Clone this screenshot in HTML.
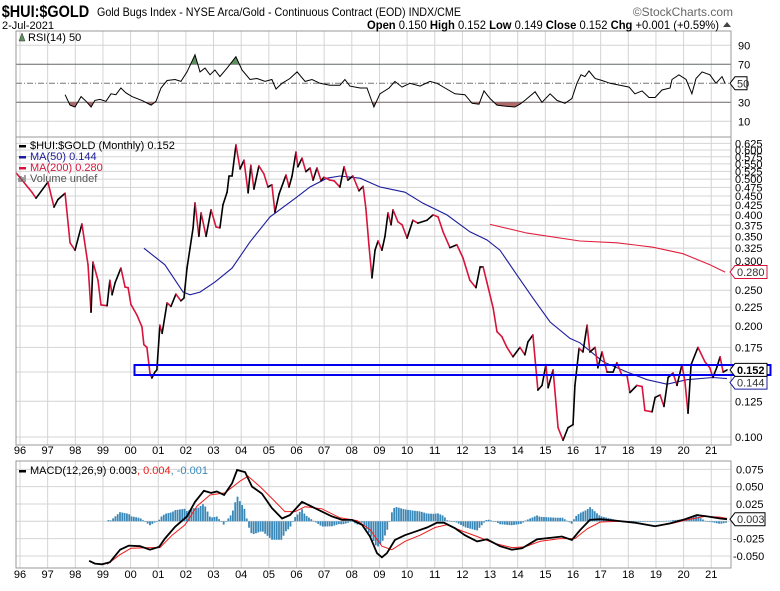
<!DOCTYPE html>
<html><head><meta charset="utf-8">
<style>
html,body{margin:0;padding:0;background:#fff;}
body{width:780px;height:586px;overflow:hidden;font-family:"Liberation Sans",Arial,sans-serif;}
svg text{font-family:"Liberation Sans",Arial,sans-serif;}
</style></head>
<body>
<svg id="chart" width="780" height="586" viewBox="0 0 780 586" xmlns="http://www.w3.org/2000/svg">
  <g id="grid"></g>
  <g id="marks"></g>
  <g id="frame"></g>
  <text x="2" y="17" font-size="17" font-weight="bold" transform="scale(0.85,1)">$HUI:$GOLD</text>
  <text x="97" y="16" font-size="12" textLength="364" lengthAdjust="spacingAndGlyphs">Gold Bugs Index - NYSE Arca/Gold - Continuous Contract (EOD) INDX/CME</text>
  <text x="733" y="16" font-size="12" fill="#666" text-anchor="end">©StockCharts.com</text>
  <text x="2" y="29" font-size="11">2-Jul-2021</text>
  <text x="367" y="29" font-size="12" textLength="352" lengthAdjust="spacingAndGlyphs"><tspan font-weight="bold">Open</tspan> 0.150 <tspan font-weight="bold">High</tspan> 0.152 <tspan font-weight="bold">Low</tspan> 0.149 <tspan font-weight="bold">Close</tspan> 0.152 <tspan font-weight="bold">Chg</tspan> +0.001 (+0.59%)</text>
  <path d="M723,27 L731,27 L727,22 Z" fill="#444"/>
</svg>
<script>
// ---------- DATA ----------
const priceDates = [1995.86,1996.43,1996.58,1997.01,1997.23,1997.37,1997.63,1997.81,1997.99,1998.24,1998.46,1998.57,1998.64,1998.82,1998.93,1999.15,1999.25,1999.33,1999.44,1999.65,1999.80,1999.91,2000.01,2000.23,2000.41,2000.48,2000.59,2000.70,2000.77,2000.88,2000.95,2001.06,2001.14,2001.32,2001.46,2001.64,2001.82,2001.93,2002.04,2002.15,2002.26,2002.33,2002.47,2002.55,2002.73,2002.91,2003.09,2003.23,2003.34,2003.49,2003.56,2003.67,2003.81,2003.96,2004.10,2004.25,2004.35,2004.46,2004.64,2004.82,2004.97,2005.11,2005.22,2005.37,2005.62,2005.73,2005.84,2005.98,2006.05,2006.20,2006.34,2006.49,2006.60,2006.74,2006.89,2006.99,2007.21,2007.36,2007.57,2007.72,2007.86,2008.04,2008.26,2008.41,2008.51,2008.62,2008.73,2008.84,2008.95,2009.09,2009.20,2009.31,2009.42,2009.49,2009.67,2009.82,2010.00,2010.21,2010.39,2010.72,2010.94,2011.12,2011.30,2011.55,2011.80,2012.02,2012.27,2012.49,2012.64,2012.75,2012.89,2013.11,2013.25,2013.43,2013.61,2013.83,2014.08,2014.26,2014.37,2014.55,2014.73,2014.88,2015.02,2015.10,2015.28,2015.46,2015.64,2015.82,2016.00,2016.07,2016.22,2016.36,2016.51,2016.61,2016.80,2016.90,2017.05,2017.23,2017.45,2017.59,2017.77,2017.95,2018.06,2018.31,2018.50,2018.60,2018.86,2018.97,2019.15,2019.29,2019.44,2019.62,2019.76,2019.94,2020.05,2020.16,2020.27,2020.52,2020.77,2020.95,2021.06,2021.21,2021.32,2021.43,2021.57];
const priceValues = [0.52,0.461,0.444,0.491,0.42,0.44,0.458,0.336,0.321,0.378,0.293,0.218,0.298,0.266,0.228,0.227,0.266,0.243,0.262,0.287,0.255,0.254,0.229,0.214,0.199,0.178,0.175,0.149,0.1445,0.15,0.152,0.201,0.191,0.231,0.226,0.244,0.234,0.238,0.287,0.325,0.369,0.431,0.35,0.405,0.35,0.413,0.371,0.369,0.426,0.461,0.51,0.51,0.619,0.533,0.563,0.459,0.545,0.47,0.543,0.517,0.476,0.483,0.407,0.456,0.513,0.476,0.51,0.592,0.54,0.57,0.524,0.536,0.497,0.536,0.495,0.506,0.497,0.495,0.476,0.54,0.497,0.51,0.465,0.478,0.416,0.331,0.27,0.321,0.34,0.321,0.35,0.405,0.376,0.413,0.383,0.376,0.346,0.387,0.38,0.387,0.40,0.395,0.36,0.326,0.332,0.306,0.266,0.254,0.289,0.289,0.262,0.224,0.193,0.187,0.175,0.165,0.175,0.167,0.181,0.189,0.134,0.138,0.157,0.136,0.152,0.106,0.098,0.106,0.108,0.138,0.174,0.17,0.201,0.17,0.175,0.154,0.17,0.15,0.15,0.159,0.147,0.147,0.132,0.138,0.137,0.118,0.117,0.128,0.13,0.121,0.145,0.149,0.138,0.157,0.141,0.116,0.157,0.175,0.16,0.154,0.145,0.155,0.165,0.15,0.152];
const ma50Dates = [2000.48,2001.24,2001.90,2002.15,2002.51,2003.05,2003.67,2004.32,2005.04,2005.98,2006.49,2007.10,2007.57,2008.30,2009.02,2009.92,2010.58,2011.44,2012.27,2012.89,2013.36,2013.97,2014.55,2015.17,2015.89,2016.25,2017.09,2017.95,2018.68,2019.40,2020.12,2021.06,2021.57];
const ma50Values = [0.325,0.293,0.247,0.243,0.247,0.263,0.287,0.338,0.395,0.445,0.476,0.503,0.51,0.503,0.476,0.461,0.43,0.40,0.36,0.342,0.321,0.275,0.238,0.205,0.185,0.18,0.16,0.15,0.143,0.139,0.143,0.145,0.144];
const ma200Dates = [2013.00,2014.34,2016.25,2017.59,2018.89,2019.98,2020.95,2021.50];
const ma200Values = [0.377,0.357,0.34,0.336,0.327,0.314,0.293,0.28];
const priceTicks = [0.100,0.125,0.150,0.175,0.200,0.225,0.250,0.275,0.300,0.325,0.350,0.375,0.400,0.425,0.450,0.475,0.500,0.525,0.550,0.575,0.600,0.625];
const priceTickLabels = ["0.100","0.125","","0.175","0.200","0.225","0.250","","0.300","0.325","0.350","0.375","0.400","0.425","0.450","0.475","0.500","0.525","0.550","0.575","0.600","0.625"];

const rsiDates = [1997.63,1997.81,1997.99,1998.21,1998.39,1998.57,1998.71,1998.89,1999.11,1999.29,1999.47,1999.65,1999.83,2000.05,2000.41,2000.74,2000.92,2001.10,2001.32,2001.61,2001.82,2002.04,2002.33,2002.51,2002.69,2002.87,2003.05,2003.23,2003.49,2003.81,2004.03,2004.32,2004.57,2004.86,2005.11,2005.26,2005.48,2005.76,2006.02,2006.31,2006.56,2006.85,2007.21,2007.57,2007.75,2007.93,2008.30,2008.55,2008.80,2009.02,2009.35,2009.56,2009.82,2010.10,2010.47,2010.83,2011.08,2011.37,2011.73,2012.09,2012.35,2012.60,2012.78,2013.00,2013.25,2013.54,2013.90,2014.08,2014.26,2014.63,2014.88,2015.17,2015.42,2015.71,2015.96,2016.14,2016.29,2016.43,2016.58,2016.80,2017.05,2017.34,2017.70,2018.03,2018.24,2018.50,2018.75,2018.97,2019.22,2019.51,2019.58,2019.83,2020.09,2020.30,2020.45,2020.67,2020.95,2021.17,2021.39,2021.50];
const rsiValues = [38,27,25,36,31,25,32,33,31,39,38,45,40,36,32,27,31,45,53,54,52,62,80,62,66,59,64,57,66,78,64,54,55,52,54,44,50,55,62,52,54,50,48,48,54,47,45,45,25,39,45,52,46,50,47,52,50,45,39,38,29,28,42,34,27,26,25,28,32,41,30,39,32,29,34,50,59,57,63,55,53,50,48,46,39,42,35,35,43,45,54,59,54,39,55,62,59,50,57,50];
const rsiTicks = [10,30,50,70,90];

const macdDates = [1998.50,1998.71,1998.97,1999.25,1999.62,1999.94,2000.34,2000.70,2001.03,2001.24,2001.61,2002.04,2002.33,2002.65,2002.91,2003.12,2003.38,2003.67,2003.85,2004.14,2004.39,2004.75,2005.11,2005.48,2005.76,2006.20,2006.56,2006.92,2007.28,2007.65,2008.01,2008.37,2008.66,2008.91,2009.09,2009.27,2009.56,2009.92,2010.29,2010.72,2011.08,2011.33,2011.73,2012.09,2012.53,2012.89,2013.36,2013.79,2014.16,2014.70,2015.17,2015.60,2015.96,2016.25,2016.61,2016.98,2017.52,2018.24,2018.97,2019.51,2020.05,2020.48,2020.85,2021.32,2021.57];
const macdValues = [-0.057,-0.061,-0.062,-0.059,-0.041,-0.035,-0.036,-0.041,-0.037,-0.025,-0.008,0.007,0.028,0.044,0.041,0.043,0.038,0.055,0.074,0.071,0.050,0.040,0.019,0.004,0.009,0.028,0.021,0.014,0.007,0.002,0.002,-0.005,-0.022,-0.046,-0.052,-0.046,-0.027,-0.020,-0.015,-0.009,-0.002,-0.002,-0.010,-0.020,-0.029,-0.026,-0.036,-0.041,-0.039,-0.026,-0.024,-0.022,-0.027,-0.013,0.002,0.003,0.001,-0.002,-0.007,-0.003,0.003,0.009,0.007,0.004,0.003];
const signalDates = [1999.15,1999.62,2000.01,2000.70,2001.06,2001.50,2001.97,2002.40,2002.87,2003.41,2003.96,2004.25,2004.68,2005.11,2005.58,2005.95,2006.31,2006.92,2007.57,2008.19,2008.66,2009.09,2009.45,2009.92,2010.47,2011.01,2011.44,2011.99,2012.53,2013.18,2013.79,2014.26,2014.80,2015.52,2016.07,2016.51,2016.98,2017.70,2018.42,2018.97,2019.58,2020.23,2020.77,2021.32,2021.57];
const signalValues = [-0.062,-0.048,-0.039,-0.038,-0.038,-0.020,-0.005,0.022,0.038,0.041,0.058,0.065,0.050,0.033,0.014,0.014,0.021,0.018,0.005,0.001,-0.012,-0.036,-0.041,-0.029,-0.020,-0.009,-0.005,-0.014,-0.022,-0.032,-0.038,-0.037,-0.029,-0.025,-0.025,-0.011,-0.001,0.000,-0.003,-0.007,-0.003,0.003,0.007,0.006,0.004];
const macdTicks = [-0.050,-0.025,0,0.025,0.050,0.075];
const macdTickLabels = ["-0.050","-0.025","","0.025","0.050","0.075"];
const years = [1996,1997,1998,1999,2000,2001,2002,2003,2004,2005,2006,2007,2008,2009,2010,2011,2012,2013,2014,2015,2016,2017,2018,2019,2020,2021];

// ---------- GEOMETRY ----------
const L = 16, R = 731;
const RSI_T = 31, RSI_B = 137, P_T = 137, P_B = 445, M_T = 461, M_B = 568;
const xOf = d => 20 + (d - 1996) * 27.65;
const yPrice = v => 437 - 160.2 * Math.log(v / 0.1);
const yRsi = v => 83.3 - (v - 50) * 0.95;
const yMacd = v => 521.3 - v * 693;
const NS = "http://www.w3.org/2000/svg";
const grid = document.getElementById('grid');
const marks = document.getElementById('marks');
const frame = document.getElementById('frame');
function mk(tag, attrs, parent) {
  const e = document.createElementNS(NS, tag);
  for (const k in attrs) e.setAttribute(k, attrs[k]);
  parent.appendChild(e);
  return e;
}
function pathD(ds, vs, fx, fy) {
  return ds.map((d, i) => (i ? 'L' : 'M') + fx(d).toFixed(1) + ',' + fy(vs[i]).toFixed(1)).join(' ');
}
function interp(ds, vs, d) {
  if (d <= ds[0]) return vs[0];
  for (let i = 1; i < ds.length; i++) if (d <= ds[i]) { const t = (d - ds[i-1]) / (ds[i] - ds[i-1]); return vs[i-1] + t * (vs[i] - vs[i-1]); }
  return vs[vs.length - 1];
}

years.forEach(y => {
  const x = xOf(y);
  [[RSI_T, RSI_B], [P_T, P_B], [M_T, M_B]].forEach(([a, b]) => {
    const ln = mk('line', {x1: x, x2: x, y1: a, y2: b, stroke: '#d4d4d4', 'stroke-width': 1}, grid);
    
    
  });
  [P_B + 12, 581].forEach(ty => {
    const t = mk('text', {x: x, y: ty - 3, 'font-size': 11, 'text-anchor': 'middle', fill: '#000'}, frame);
    t.textContent = String(y).slice(2);
    
    
  });
});

rsiTicks.forEach(v => {
  const y = yRsi(v);
  const attrs = {x1: L, x2: R, y1: y, y2: y, stroke: '#d4d4d4', 'stroke-width': 1};
  if (v === 30 || v === 70) { attrs.stroke = '#666'; }
  if (v === 50) { attrs.stroke = '#777'; attrs['stroke-dasharray'] = '6,2,1,2'; }
  const ln = mk('line', attrs, grid);
  
  
  if (v !== 50) {
    const t = mk('text', {x: 738, y: y + 4, 'font-size': 11}, frame);
    t.textContent = v;
    
    
  }
});
priceTicks.forEach((v, i) => {
  const y = yPrice(v);
  const ln = mk('line', {x1: L, x2: R, y1: y, y2: y, stroke: '#d4d4d4', 'stroke-width': 1}, grid);
  
  
  if (priceTickLabels[i]) {
    const t = mk('text', {x: 735, y: y + 4, 'font-size': 11}, frame);
    t.textContent = priceTickLabels[i];
    
    
  }
});
macdTicks.forEach((v, i) => {
  const y = yMacd(v);
  const ln = mk('line', {x1: L, x2: R, y1: y, y2: y, stroke: '#d4d4d4', 'stroke-width': 1}, grid);
  
  
  if (macdTickLabels[i]) {
    const t = mk('text', {x: macdTicks[i] < 0 ? 733 : 736, y: y + 4, 'font-size': 11}, frame);
    t.textContent = macdTickLabels[i];
    
    
  }
});

// ---------- RSI ----------
const defs = mk('defs', {}, marks);
const c1 = mk('clipPath', {id: 'below30'}, defs); mk('rect', {x: L, y: yRsi(30), width: R - L, height: 40}, c1);
const c2 = mk('clipPath', {id: 'above70'}, defs); mk('rect', {x: L, y: RSI_T, width: R - L, height: yRsi(70) - RSI_T}, c2);
const rsiLine = pathD(rsiDates, rsiValues, xOf, yRsi);
const xs0 = xOf(rsiDates[0]), xs1 = xOf(rsiDates[rsiDates.length - 1]);
const redFill = mk('path', {d: rsiLine + ` L${xs1},${yRsi(30)} L${xs0},${yRsi(30)} Z`, fill: '#b06a6a', 'clip-path': 'url(#below30)'}, marks);


const greenFill = mk('path', {d: rsiLine + ` L${xs1},${yRsi(70)} L${xs0},${yRsi(70)} Z`, fill: '#5e8f5e', 'clip-path': 'url(#above70)'}, marks);


const rsiP = mk('path', {d: rsiLine, fill: 'none', stroke: '#000', 'stroke-width': 1}, marks);



// ---------- PRICE ----------
const ma200P = mk('path', {d: pathD(ma200Dates, ma200Values, xOf, yPrice), fill: 'none', stroke: '#e0203c', 'stroke-width': 1.1}, marks);


const ma50P = mk('path', {d: pathD(ma50Dates, ma50Values, xOf, yPrice), fill: 'none', stroke: '#1c1c9c', 'stroke-width': 1.1}, marks);


for (let i = 1; i < priceDates.length; i++) {
  const up = priceValues[i] >= priceValues[i-1];
  const seg = mk('line', {x1: xOf(priceDates[i-1]), y1: yPrice(priceValues[i-1]), x2: xOf(priceDates[i]), y2: yPrice(priceValues[i]), stroke: up ? '#000' : '#d8143c', 'stroke-width': 1.6, 'stroke-linecap': 'round'}, marks);
  
  
}

// ---------- MACD ----------
for (let d = 1999.2; d <= 2021.57; d += 1/12) {
  const h = (interp(macdDates, macdValues, d) - interp(signalDates, signalValues, d)) * 1.9;
  const y0 = yMacd(0), y1 = yMacd(h);
  const b = mk('rect', {x: xOf(d) - 0.9, y: Math.min(y0, y1), width: 1.8, height: Math.max(0.6, Math.abs(y1 - y0)), fill: '#3a88b8'}, marks);
  
  
}
const sigP = mk('path', {d: pathD(signalDates, signalValues, xOf, yMacd), fill: 'none', stroke: '#ee1c1c', 'stroke-width': 1}, marks);


const macdP = mk('path', {d: pathD(macdDates, macdValues, xOf, yMacd), fill: 'none', stroke: '#000', 'stroke-width': 1.8}, marks);



// ---------- FRAMES ----------
[[RSI_T, RSI_B, 'rsi-panel'], [P_T, P_B, 'price-panel'], [M_T, M_B, 'macd-panel']].forEach(([a, b, n]) => {
  const r = mk('rect', {x: L, y: a, width: R - L, height: b - a, fill: 'none', stroke: '#999', 'stroke-width': 1}, frame);
  
  
});
const hl = mk('rect', {x: 134.5, y: 365, width: 636, height: 10, fill: 'none', stroke: '#0000ee', 'stroke-width': 2}, frame);



function tag(y, txt, color, bold, name, w) {
  const g = mk('g', {}, frame);
  
  
  mk('path', {d: `M730,${y} L735,${y-6.5} L${735+w},${y-6.5} L${735+w},${y+6.5} L735,${y+6.5} Z`, fill: '#fff', stroke: color, 'stroke-width': 1}, g);
  const t = mk('text', {x: 737, y: y + 4, 'font-size': 11, 'font-weight': bold ? 'bold' : 'normal', fill: bold ? '#000' : '#333'}, g);
  t.textContent = txt;
}
tag(yRsi(50), '50', '#000', false, 'rsi-value-tag', 12);
tag(yPrice(0.280), '0.280', '#d8143c', false, 'ma200-value-tag', 32);
tag(yPrice(0.144) + 4, '0.144', '#1c1c9c', false, 'ma50-value-tag', 32);
tag(yPrice(0.152), '0.152', '#000', true, 'price-value-tag', 32);
tag(yMacd(0.003), '0.003', '#000', false, 'macd-value-tag', 30);

function legendLine(x, y, color, parts, name) {
  const g = mk('g', {}, frame);
  
  
  mk('rect', {x: x, y: y - 4, width: 7, height: 2.5, fill: color}, g);
  const t = mk('text', {x: x + 11, y: y, 'font-size': 11}, g);
  parts.forEach(([s, c]) => { const ts = mk('tspan', {fill: c}, t); ts.textContent = s; });
}
legendLine(19, 149, '#000', [['$HUI:$GOLD (Monthly) 0.152', '#000']], 'legend-price');
legendLine(19, 160, '#1c1c9c', [['MA(50) 0.144', '#1c1c9c']], 'legend-ma50');
legendLine(19, 171, '#d8143c', [['MA(200) 0.280', '#d8143c']], 'legend-ma200');
(function(){
  const g = mk('g', {}, frame);
  
  
  mk('path', {d: 'M19,182 v-4 M21,182 v-6 M23,182 v-5 M25,182 v-7', stroke: '#666', 'stroke-width': 1.2}, g);
  const t = mk('text', {x: 30, y: 182, 'font-size': 11, fill: '#555'}, g);
  t.textContent = 'Volume undef';
})();
(function(){
  const g = mk('g', {}, frame);
  
  
  mk('path', {d: 'M19,41 L22,33 L25,41 Z', fill: '#5e8f5e', stroke: '#333', 'stroke-width': 0.5}, g);
  const t = mk('text', {x: 28, y: 41, 'font-size': 11}, g);
  t.textContent = 'RSI(14) 50';
})();
legendLine(19, 474, '#000', [['MACD(12,26,9) 0.003', '#000'], [', 0.004', '#ee1c1c'], [', -0.001', '#3a88b8']], 'legend-macd');
</script>
</body></html>
